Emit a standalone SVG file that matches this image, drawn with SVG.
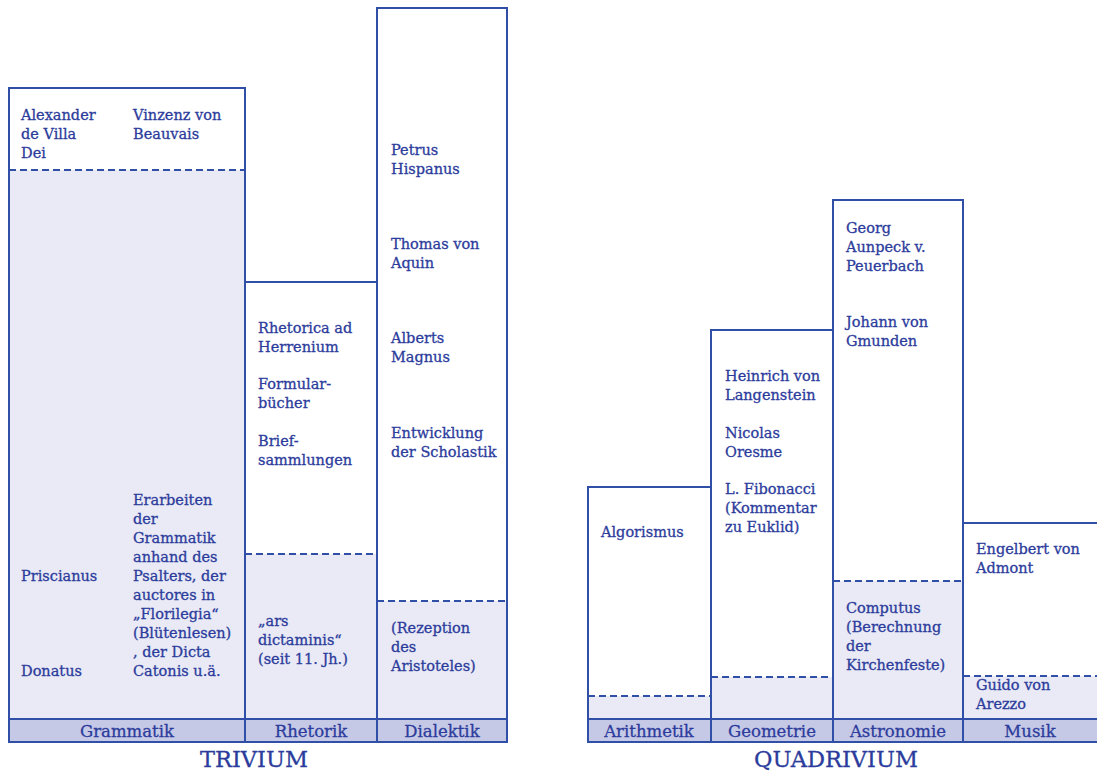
<svg xmlns="http://www.w3.org/2000/svg" width="1097" height="773" viewBox="0 0 1097 773">
<style>
.white{fill:#ffffff}
.shade{fill:#e9eaf5}
.band{fill:#c6c9e6}
.frame{fill:none;stroke:#3050a8;stroke-width:2}
.dash{stroke:#3050a8;stroke-width:2;stroke-dasharray:7 4;fill:none}
text{font-family:"DejaVu Serif","Liberation Serif",serif;fill:#2c3c9c;stroke:#2c3c9c;stroke-width:0.3}
.t{font-size:14.5px}
.lab{font-size:16.5px;text-anchor:middle}
.title{font-size:22.5px;text-anchor:middle}
</style>
<rect x="0" y="0" width="1097" height="773" fill="#ffffff"/>

<g id="grammatik">
<rect class="white" x="9" y="88" width="236" height="82"/>
<rect class="shade" x="9" y="170" width="236" height="549"/>
<rect class="band" x="9" y="719" width="236" height="23"/>
<rect class="frame" x="9" y="88" width="236" height="654"/>
<line class="frame" x1="9" y1="719" x2="245" y2="719"/>
<line class="dash" x1="9" y1="170" x2="245" y2="170"/>
<text class="t" x="21" y="120">Alexander</text>
<text class="t" x="21" y="139">de Villa</text>
<text class="t" x="21" y="158">Dei</text>
<text class="t" x="133" y="120">Vinzenz von</text>
<text class="t" x="133" y="139">Beauvais</text>
<text class="t" x="21" y="581">Priscianus</text>
<text class="t" x="21" y="676">Donatus</text>
<text class="t" x="133" y="505">Erarbeiten</text>
<text class="t" x="133" y="524">der</text>
<text class="t" x="133" y="543">Grammatik</text>
<text class="t" x="133" y="562">anhand des</text>
<text class="t" x="133" y="581">Psalters, der</text>
<text class="t" x="133" y="600">auctores in</text>
<text class="t" x="133" y="619">„Florilegia“</text>
<text class="t" x="133" y="638">(Blütenlesen)</text>
<text class="t" x="133" y="657">, der Dicta</text>
<text class="t" x="133" y="676">Catonis u.ä.</text>
<text class="lab" x="127" y="737">Grammatik</text>
</g>

<g id="rhetorik">
<rect class="white" x="245" y="282" width="132" height="272"/>
<rect class="shade" x="245" y="554" width="132" height="165"/>
<rect class="band" x="245" y="719" width="132" height="23"/>
<rect class="frame" x="245" y="282" width="132" height="460"/>
<line class="frame" x1="245" y1="719" x2="377" y2="719"/>
<line class="dash" x1="245" y1="554" x2="377" y2="554"/>
<text class="t" x="258" y="333">Rhetorica ad</text>
<text class="t" x="258" y="352">Herrenium</text>
<text class="t" x="258" y="389">Formular-</text>
<text class="t" x="258" y="408">bücher</text>
<text class="t" x="258" y="446">Brief-</text>
<text class="t" x="258" y="465">sammlungen</text>
<text class="t" x="258" y="626">„ars</text>
<text class="t" x="258" y="645">dictaminis“</text>
<text class="t" x="258" y="664">(seit 11. Jh.)</text>
<text class="lab" x="311" y="737">Rhetorik</text>
</g>

<g id="dialektik">
<rect class="white" x="377" y="8" width="130" height="593"/>
<rect class="shade" x="377" y="601" width="130" height="118"/>
<rect class="band" x="377" y="719" width="130" height="23"/>
<rect class="frame" x="377" y="8" width="130" height="734"/>
<line class="frame" x1="377" y1="719" x2="507" y2="719"/>
<line class="dash" x1="377" y1="601" x2="507" y2="601"/>
<text class="t" x="391" y="155">Petrus</text>
<text class="t" x="391" y="174">Hispanus</text>
<text class="t" x="391" y="249">Thomas von</text>
<text class="t" x="391" y="268">Aquin</text>
<text class="t" x="391" y="343">Alberts</text>
<text class="t" x="391" y="362">Magnus</text>
<text class="t" x="391" y="438">Entwicklung</text>
<text class="t" x="391" y="457">der Scholastik</text>
<text class="t" x="391" y="633">(Rezeption</text>
<text class="t" x="391" y="652">des</text>
<text class="t" x="391" y="671">Aristoteles)</text>
<text class="lab" x="442" y="737">Dialektik</text>
</g>

<g id="trivium-title">
<text class="title" x="254" y="767">TRIVIUM</text>
</g>

<g id="arithmetik">
<rect class="white" x="588" y="487" width="123" height="209"/>
<rect class="shade" x="588" y="696" width="123" height="23"/>
<rect class="band" x="588" y="719" width="123" height="23"/>
<rect class="frame" x="588" y="487" width="123" height="255"/>
<line class="frame" x1="588" y1="719" x2="711" y2="719"/>
<line class="dash" x1="588" y1="696" x2="711" y2="696"/>
<text class="t" x="601" y="537">Algorismus</text>
<text class="lab" x="649" y="737">Arithmetik</text>
</g>

<g id="geometrie">
<rect class="white" x="711" y="330" width="122" height="347"/>
<rect class="shade" x="711" y="677" width="122" height="42"/>
<rect class="band" x="711" y="719" width="122" height="23"/>
<rect class="frame" x="711" y="330" width="122" height="412"/>
<line class="frame" x1="711" y1="719" x2="833" y2="719"/>
<line class="dash" x1="711" y1="677" x2="833" y2="677"/>
<text class="t" x="725" y="381">Heinrich von</text>
<text class="t" x="725" y="400">Langenstein</text>
<text class="t" x="725" y="438">Nicolas</text>
<text class="t" x="725" y="457">Oresme</text>
<text class="t" x="725" y="494">L. Fibonacci</text>
<text class="t" x="725" y="513">(Kommentar</text>
<text class="t" x="725" y="532">zu Euklid)</text>
<text class="lab" x="772" y="737">Geometrie</text>
</g>

<g id="astronomie">
<rect class="white" x="833" y="200" width="130" height="381"/>
<rect class="shade" x="833" y="581" width="130" height="138"/>
<rect class="band" x="833" y="719" width="130" height="23"/>
<rect class="frame" x="833" y="200" width="130" height="542"/>
<line class="frame" x1="833" y1="719" x2="963" y2="719"/>
<line class="dash" x1="833" y1="581" x2="963" y2="581"/>
<text class="t" x="846" y="233">Georg</text>
<text class="t" x="846" y="252">Aunpeck v.</text>
<text class="t" x="846" y="271">Peuerbach</text>
<text class="t" x="846" y="327">Johann von</text>
<text class="t" x="846" y="346">Gmunden</text>
<text class="t" x="846" y="613">Computus</text>
<text class="t" x="846" y="632">(Berechnung</text>
<text class="t" x="846" y="651">der</text>
<text class="t" x="846" y="670">Kirchenfeste)</text>
<text class="lab" x="898" y="737">Astronomie</text>
</g>

<g id="musik">
<rect class="white" x="963" y="523" width="140" height="153"/>
<rect class="shade" x="963" y="676" width="140" height="43"/>
<rect class="band" x="963" y="719" width="140" height="23"/>
<rect class="frame" x="963" y="523" width="140" height="219"/>
<line class="frame" x1="963" y1="719" x2="1103" y2="719"/>
<line class="dash" x1="963" y1="676" x2="1103" y2="676"/>
<text class="t" x="976" y="554">Engelbert von</text>
<text class="t" x="976" y="573">Admont</text>
<text class="t" x="976" y="690">Guido von</text>
<text class="t" x="976" y="709">Arezzo</text>
<text class="lab" x="1030" y="737">Musik</text>
</g>

<g id="quadrivium-title">
<text class="title" x="836" y="767">QUADRIVIUM</text>
</g>
</svg>
